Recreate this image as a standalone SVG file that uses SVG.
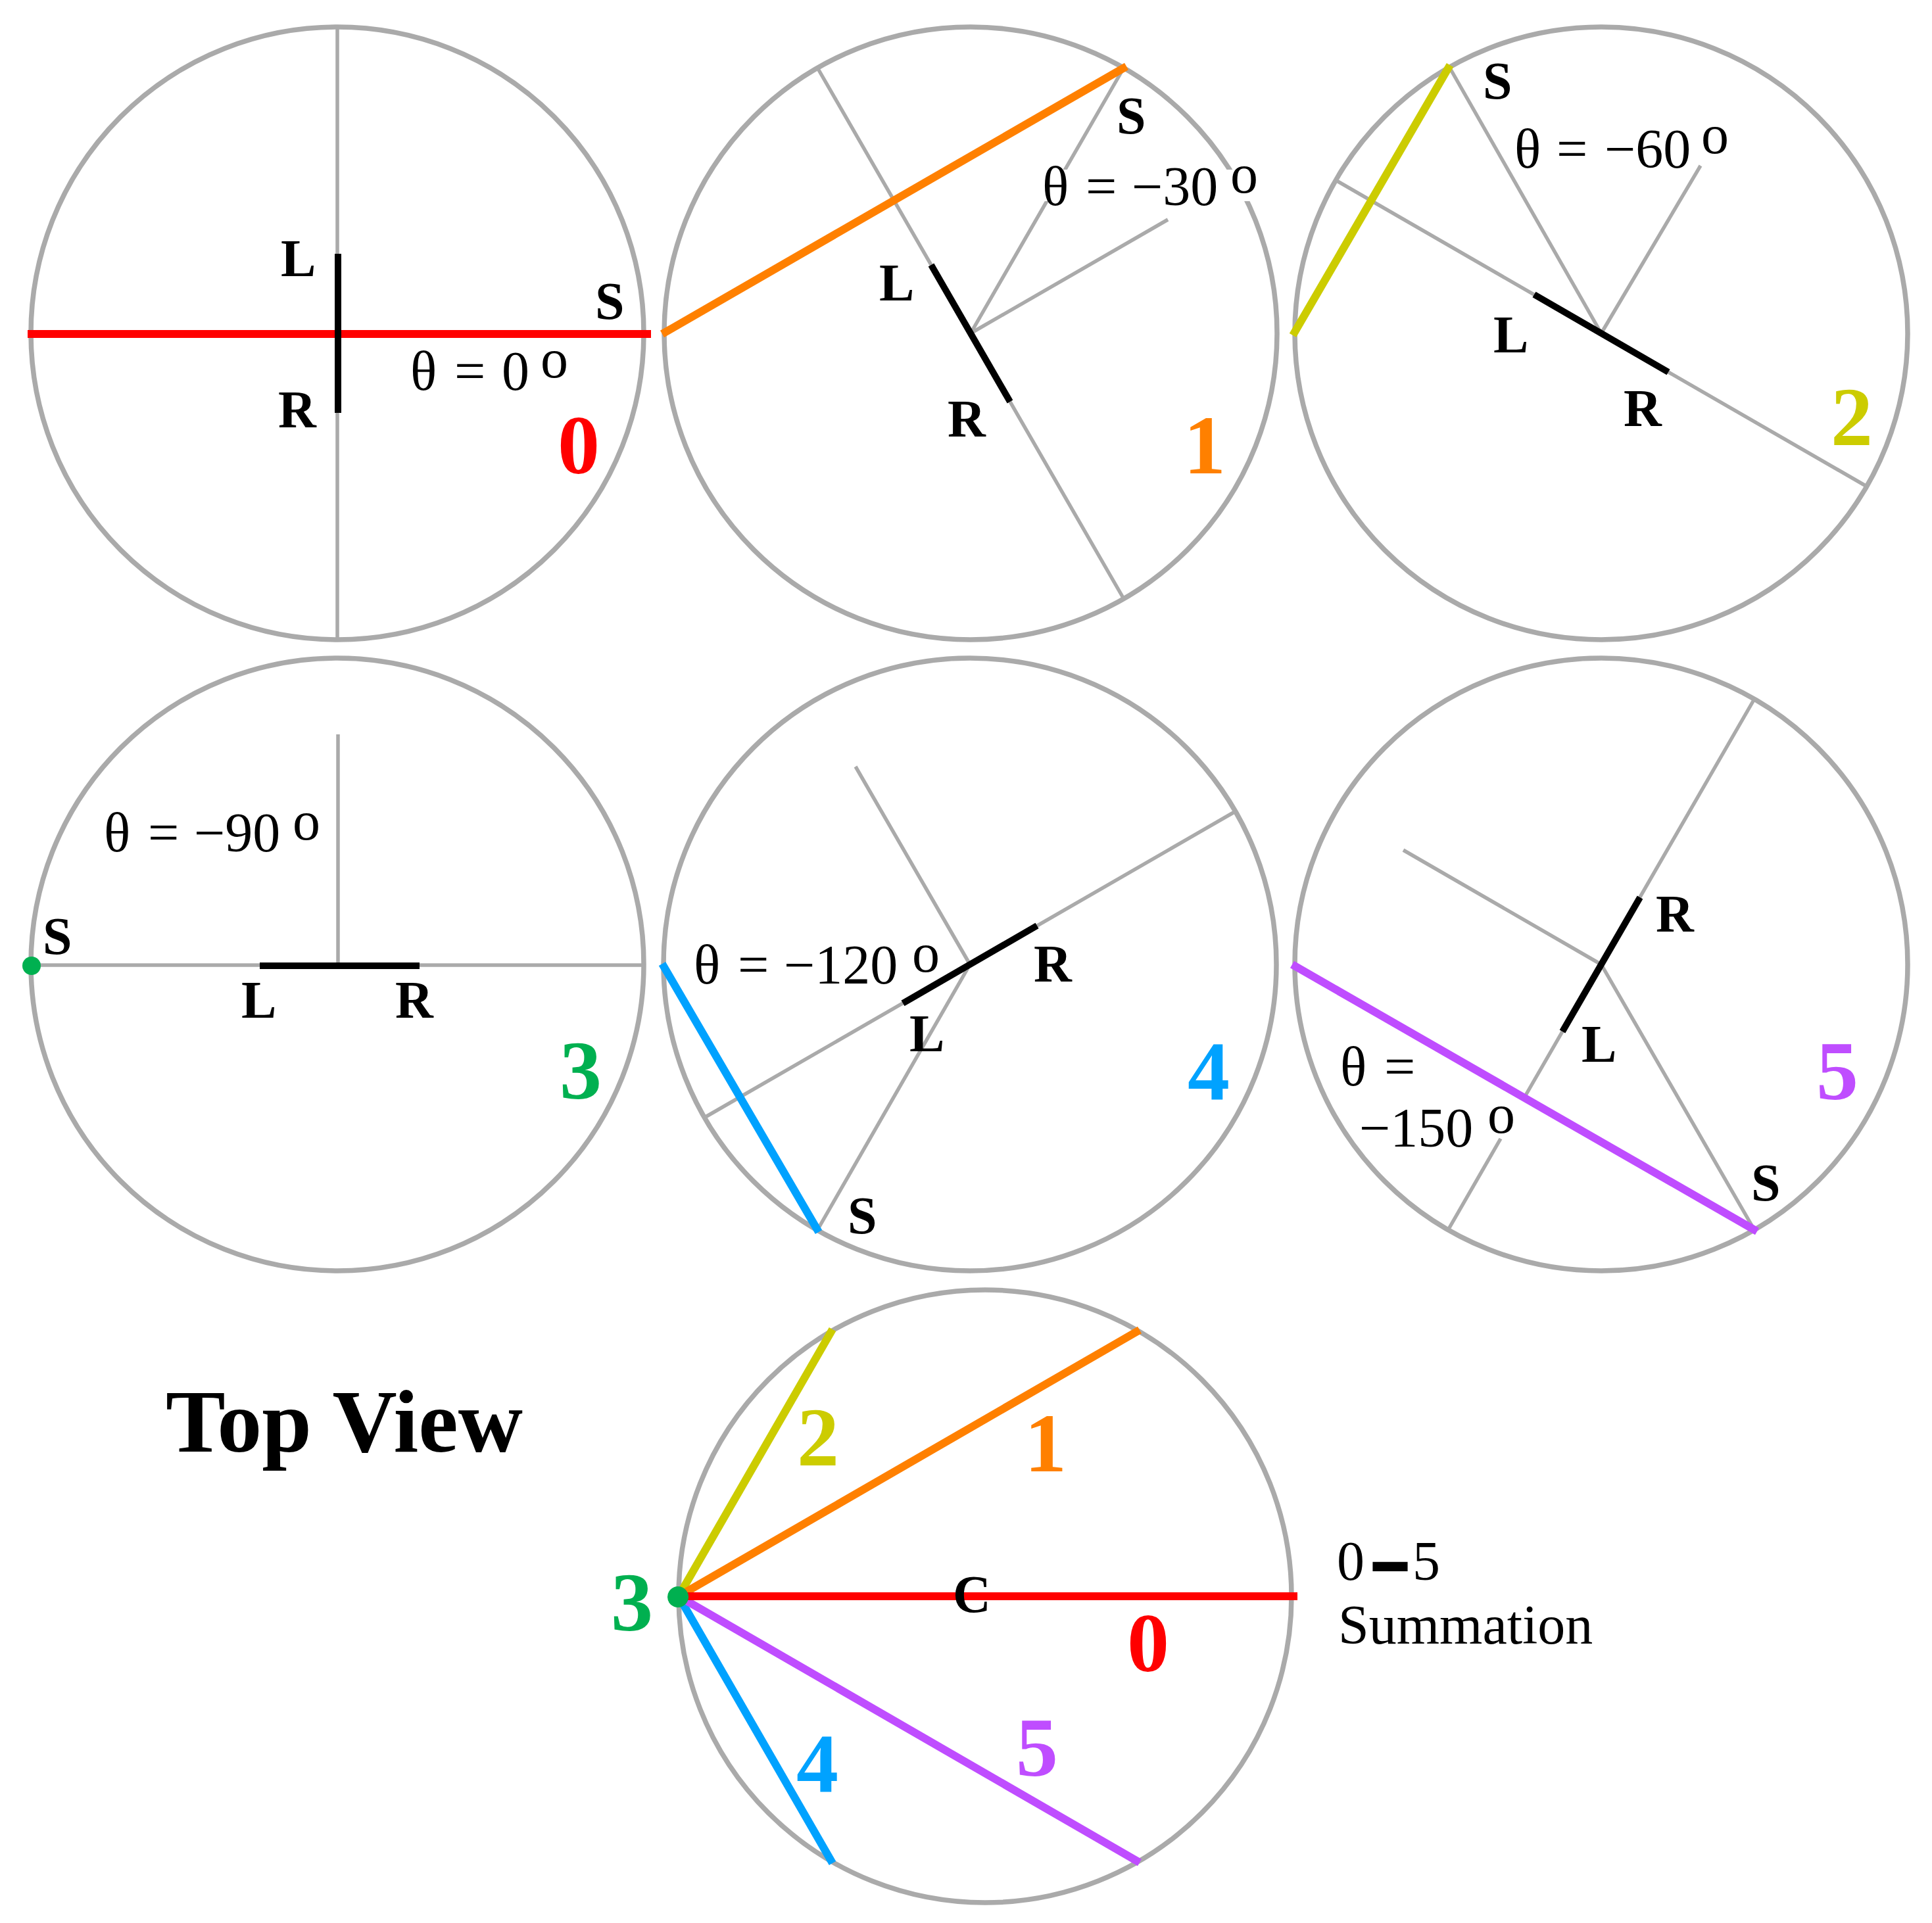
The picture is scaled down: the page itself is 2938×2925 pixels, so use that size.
<svg xmlns="http://www.w3.org/2000/svg" width="2938" height="2925" viewBox="0 0 2938 2925">
<style>
.bg{fill:#fff}
.ring{fill:none;stroke:#aaaaaa;stroke-width:7.5}
.ax{stroke:#aaaaaa;stroke-width:5.5;fill:none}
.lr{stroke:#000;stroke-width:10;stroke-linecap:butt}
.ch{stroke-width:12;stroke-linecap:butt;fill:none}
.red{stroke:#ff0000}.org{stroke:#ff8000}.yel{stroke:#cccc00}.blu{stroke:#00a2ff}.pur{stroke:#bf4dff}
.dot{fill:#00b050}
.t{font-family:"Liberation Serif","Times New Roman",serif;font-size:84px;fill:#000}
.b{font-family:"Liberation Serif","Times New Roman",serif;font-weight:bold;font-size:80px;fill:#000}
.n{font-family:"Liberation Serif","Times New Roman",serif;font-weight:bold;font-size:128px}
.wb{fill:#fff}
</style>
<rect class="bg" x="0" y="0" width="2938" height="2925"/>

<g id="panel0">
<circle class="ring" cx="513" cy="507" r="466"/>
<line class="ax" x1="513" y1="41" x2="513" y2="973"/>
<line class="ch red" x1="42" y1="508" x2="990" y2="508"/>
<line class="lr" x1="514" y1="386" x2="514" y2="628"/>
<text class="b" x="427" y="420">L</text>
<text class="b" x="423" y="650">R</text>
<text class="b" x="905" y="485">S</text>
<text class="t" y="593"><tspan x="624">θ</tspan><tspan x="691">=</tspan><tspan x="763">0</tspan><tspan x="822" y="574">o</tspan></text>
<text class="n" x="848" y="720" fill="#ff0000">0</text>
</g>

<g id="panel1">
<circle class="ring" cx="1476" cy="507" r="466"/>
<line class="ax" x1="1243" y1="103" x2="1709" y2="911"/>
<line class="ax" x1="1476" y1="507" x2="1776" y2="334"/>
<line class="ax" x1="1476" y1="507" x2="1709" y2="103"/>
<line class="ch org" x1="1007" y1="508" x2="1713" y2="101"/>
<line class="lr" x1="1416" y1="403" x2="1536" y2="611"/>
<rect class="wb" x="1582" y="258" width="343" height="48"/>
<text class="b" x="1698" y="203">S</text>
<text class="b" x="1337" y="457">L</text>
<text class="b" x="1441" y="664">R</text>
<text class="t" y="312"><tspan x="1585">θ</tspan><tspan x="1651">=</tspan><tspan x="1721">−30</tspan><tspan x="1871" y="293">o</tspan></text>
<text class="n" x="1800" y="720" fill="#ff8000">1</text>
</g>

<g id="panel2">
<circle class="ring" cx="2435" cy="507" r="466"/>
<line class="ax" x1="2031" y1="274" x2="2839" y2="740"/>
<line class="ax" x1="2435" y1="507" x2="2586" y2="252"/>
<line class="ax" x1="2435" y1="507" x2="2204" y2="102"/>
<line class="ch yel" x1="1966" y1="510" x2="2205" y2="99"/>
<line class="lr" x1="2333" y1="448" x2="2537" y2="566"/>
<text class="b" x="2255" y="150">S</text>
<text class="b" x="2271" y="536">L</text>
<text class="b" x="2469" y="648">R</text>
<text class="t" y="255"><tspan x="2303">θ</tspan><tspan x="2367">=</tspan><tspan x="2440">−60</tspan><tspan x="2587" y="233">o</tspan></text>
<text class="n" x="2784" y="677" fill="#cccc00">2</text>
</g>

<g id="panel3">
<circle class="ring" cx="513" cy="1467" r="466"/>
<line class="ax" x1="47" y1="1468" x2="982" y2="1468"/>
<line class="ax" x1="514" y1="1117" x2="514" y2="1468"/>
<line class="lr" x1="395" y1="1469" x2="638" y2="1469"/>
<circle class="dot" cx="48" cy="1469" r="14"/>
<text class="b" x="65" y="1451">S</text>
<text class="b" x="367" y="1548">L</text>
<text class="b" x="601" y="1548">R</text>
<text class="t" y="1295"><tspan x="158">θ</tspan><tspan x="225">=</tspan><tspan x="295">−90</tspan><tspan x="445" y="1277">o</tspan></text>
<text class="n" x="851" y="1671" fill="#00b050">3</text>
</g>

<g id="panel4">
<circle class="ring" cx="1475" cy="1467" r="466"/>
<line class="ax" x1="1071" y1="1700" x2="1879" y2="1234"/>
<line class="ax" x1="1475" y1="1467" x2="1301" y2="1166"/>
<line class="ax" x1="1475" y1="1467" x2="1243" y2="1871"/>
<line class="ch blu" x1="1007" y1="1466" x2="1245" y2="1874"/>
<line class="lr" x1="1373" y1="1526" x2="1577" y2="1408"/>
<text class="b" x="1572" y="1493">R</text>
<text class="b" x="1383" y="1599">L</text>
<text class="b" x="1289" y="1876">S</text>
<text class="t" y="1496"><tspan x="1055">θ</tspan><tspan x="1122">=</tspan><tspan x="1192">−120</tspan><tspan x="1387" y="1478">o</tspan></text>
<text class="n" x="1806" y="1672" fill="#00a2ff">4</text>
</g>

<g id="panel5">
<circle class="ring" cx="2435" cy="1467" r="466"/>
<line class="ax" x1="2202" y1="1871" x2="2282" y2="1732"/>
<line class="ax" x1="2320" y1="1666" x2="2668" y2="1063"/>
<line class="ax" x1="2435" y1="1467" x2="2134" y2="1293"/>
<line class="ax" x1="2435" y1="1467" x2="2668" y2="1871"/>
<line class="ch pur" x1="1965" y1="1467" x2="2672" y2="1873"/>
<line class="lr" x1="2494" y1="1365" x2="2376" y2="1569"/>
<text class="b" x="2518" y="1417">R</text>
<text class="b" x="2405" y="1615">L</text>
<text class="b" x="2663" y="1826">S</text>
<text class="t"><tspan x="2038" y="1651">θ</tspan><tspan x="2105" y="1651">=</tspan><tspan x="2067" y="1744">−150</tspan><tspan x="2262" y="1723">o</tspan></text>
<text class="n" x="2762" y="1672" fill="#bf4dff">5</text>
</g>

<g id="summation">
<circle class="ring" cx="1498" cy="2428" r="466"/>
<line class="ch yel" x1="1032" y1="2428" x2="1266" y2="2022"/>
<line class="ch blu" x1="1032" y1="2428" x2="1266" y2="2834"/>
<line class="ch pur" x1="1032" y1="2428" x2="1733" y2="2833"/>
<line class="ch org" x1="1032" y1="2428" x2="1733" y2="2023"/>
<line class="ch red" x1="1032" y1="2428" x2="1973" y2="2428"/>
<circle class="dot" cx="1031" cy="2429" r="16"/>
<text class="b" x="1449" y="2452">C</text>
<text class="n" x="929" y="2480" fill="#00b050">3</text>
<text class="n" x="1212" y="2229" fill="#cccc00">2</text>
<text class="n" x="1558" y="2238" fill="#ff8000">1</text>
<text class="n" x="1714" y="2542" fill="#ff0000">0</text>
<text class="n" x="1211" y="2725" fill="#00a2ff">4</text>
<text class="n" x="1545" y="2701" fill="#bf4dff">5</text>
</g>

<g id="legend">
<text class="t" y="2403"><tspan x="2033">0</tspan><tspan x="2093" style="stroke:#000;stroke-width:10">–</tspan><tspan x="2148">5</tspan></text>
<text class="t" x="2035" y="2500">Summation</text>
</g>

<g id="title">
<text class="b" x="252" y="2208" style="font-size:136px">Top View</text>
</g>
</svg>
